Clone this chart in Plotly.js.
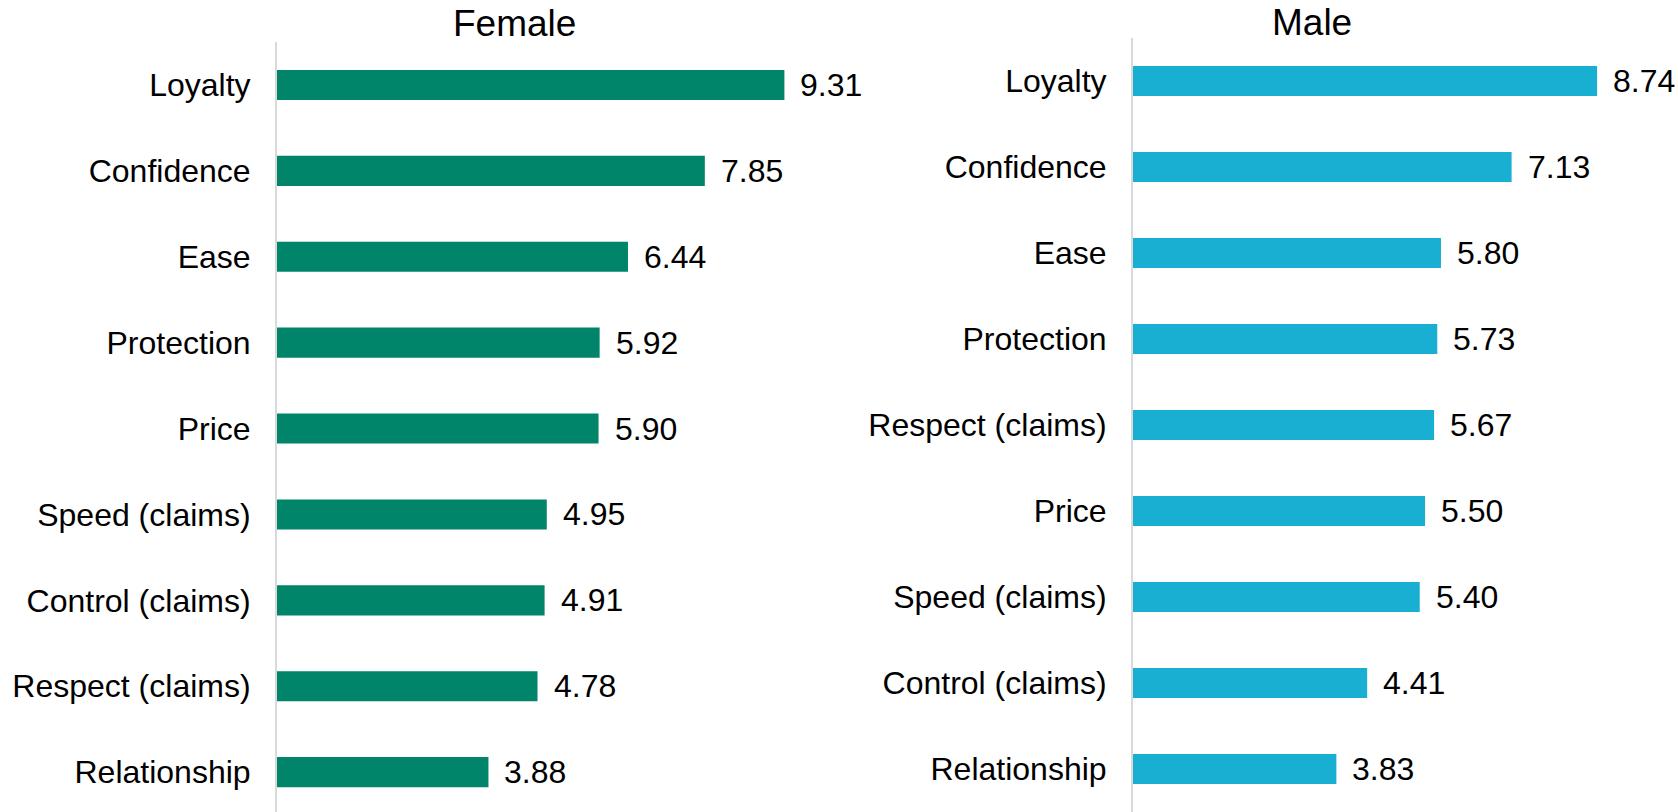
<!DOCTYPE html>
<html>
<head>
<meta charset="utf-8">
<script src="https://cdn.plot.ly/plotly-3.0.1.min.js"></script>
<style>html,body{margin:0;padding:0;background:#fff;}#chart{width:1678px;height:812px;}</style>
</head>
<body>
<div id="chart"></div>
<script>
const femaleCategories = ["Loyalty","Confidence","Ease","Protection","Price","Speed (claims)","Control (claims)","Respect (claims)","Relationship"];
const femaleValues = [9.31, 7.85, 6.44, 5.92, 5.90, 4.95, 4.91, 4.78, 3.88];
const maleCategories = ["Loyalty","Confidence","Ease","Protection","Respect (claims)","Price","Speed (claims)","Control (claims)","Relationship"];
const maleValues = [8.74, 7.13, 5.80, 5.73, 5.67, 5.50, 5.40, 4.41, 3.83];
const panelTitles = ["Female", "Male"];

const FONT = "Arial, 'Liberation Sans', sans-serif";
const W = 1678, H = 812;
const green = "#00846A", blue = "#18AFD2";

const traces = [
  {type:"bar", orientation:"h", x:femaleValues, y:femaleCategories, xaxis:"x", yaxis:"y",
   marker:{color:green}, width:0.35, hoverinfo:"x+y", showlegend:false},
  {type:"bar", orientation:"h", x:maleValues, y:maleCategories, xaxis:"x2", yaxis:"y2",
   marker:{color:blue}, width:0.35, hoverinfo:"x+y", showlegend:false}
];

const annotations = [];
femaleValues.forEach((v,i)=>annotations.push({x:v, y:femaleCategories[i], xref:"x", yref:"y",
  text:v.toFixed(2), showarrow:false, xanchor:"left", yanchor:"middle", xshift:14,
  font:{family:FONT, size:32, color:"#000"}}));
maleValues.forEach((v,i)=>annotations.push({x:v, y:maleCategories[i], xref:"x2", yref:"y2",
  text:v.toFixed(2), showarrow:false, xanchor:"left", yanchor:"middle", xshift:14,
  font:{family:FONT, size:32, color:"#000"}}));
annotations.push({x:514/W, y:1-23/H, xref:"paper", yref:"paper", text:panelTitles[0], showarrow:false,
  xanchor:"center", yanchor:"middle", font:{family:FONT, size:37, color:"#000"}});
annotations.push({x:1312/W, y:1-22/H, xref:"paper", yref:"paper", text:panelTitles[1], showarrow:false,
  xanchor:"center", yanchor:"middle", font:{family:FONT, size:37, color:"#000"}});

const xcommon = {range:[0,10], showgrid:false, zeroline:false, showline:false, showticklabels:false, ticks:"", fixedrange:true};
const ycommon = {type:"category", showgrid:false, zeroline:false, showline:true, linecolor:"#d9d9d9", linewidth:2,
  ticks:"", ticklabelstandoff:18, tickfont:{family:FONT, size:32, color:"#000"}, fixedrange:true};

const layout = {
  width:W, height:H, margin:{l:0,r:0,t:0,b:0}, paper_bgcolor:"#fff", plot_bgcolor:"#fff",
  font:{family:FONT, color:"#000"},
  xaxis:Object.assign({}, xcommon, {domain:[277/W, 822/W], anchor:"y"}),
  yaxis:Object.assign({}, ycommon, {domain:[0, 1-42/H], range:[8.464,-0.5], anchor:"x"}),
  xaxis2:Object.assign({}, xcommon, {domain:[1133/W, 1664/W], anchor:"y2"}),
  yaxis2:Object.assign({}, ycommon, {domain:[0, 1-38/H], range:[8.5,-0.5], anchor:"x2"}),
  annotations:annotations
};

Plotly.newPlot("chart", traces, layout, {displayModeBar:false, responsive:false});
</script>
</body>
</html>
